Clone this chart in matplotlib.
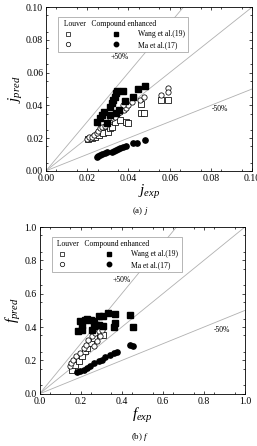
import matplotlib
matplotlib.use('Agg')
import matplotlib.pyplot as plt
import numpy as np
from matplotlib.legend_handler import HandlerTuple
from matplotlib.lines import Line2D

plt.rcParams['font.family'] = 'Liberation Serif'
plt.rcParams['mathtext.fontset'] = 'custom'
plt.rcParams['mathtext.it'] = 'Liberation Serif:italic'
plt.rcParams['mathtext.rm'] = 'Liberation Serif'

# ---- (a) j factor ----
j_wang_exp = [0.0482, 0.0444, 0.0423, 0.0384, 0.0374, 0.0345, 0.0342, 0.0334, 0.0326, 0.0318,
              0.031, 0.0352, 0.0342, 0.0281, 0.0274, 0.0261, 0.0248, 0.0297, 0.031]
j_wang_pred = [0.0521, 0.0497, 0.0452, 0.0428, 0.0489, 0.0489, 0.0473, 0.0452, 0.0432, 0.0412,
               0.0391, 0.0371, 0.0351, 0.0361, 0.0341, 0.032, 0.030, 0.029, 0.034]
j_ma_exp = [0.0245, 0.0253, 0.0261, 0.0274, 0.0285, 0.0297, 0.0318, 0.0329, 0.0339, 0.035,
            0.0361, 0.0374, 0.0387, 0.0423, 0.0442, 0.0482]
j_ma_pred = [0.0083, 0.0091, 0.0097, 0.0101, 0.0108, 0.0112, 0.0118, 0.0124, 0.0128, 0.0134,
             0.014, 0.0146, 0.0152, 0.0168, 0.0172, 0.0189]
j_louv_c_exp = [0.020, 0.021, 0.0221, 0.0232, 0.0245, 0.0253, 0.0261, 0.0274, 0.0285, 0.0297,
                0.031, 0.0323, 0.0334, 0.035, 0.0361, 0.0377, 0.039, 0.0398, 0.0415, 0.0455,
                0.0474, 0.056, 0.0592, 0.0592, 0.0374]
j_louv_c_pred = [0.0193, 0.0205, 0.0209, 0.0219, 0.0229, 0.0245, 0.026, 0.027, 0.0274, 0.029,
                 0.031, 0.032, 0.0331, 0.0351, 0.0361, 0.0371, 0.0381, 0.0402, 0.0422, 0.0432,
                 0.0452, 0.0462, 0.0509, 0.0483, 0.0402]
j_louv_s_exp = [0.0205, 0.0221, 0.0237, 0.0258, 0.0277, 0.0302, 0.031, 0.0318, 0.0334, 0.0358,
                0.0387, 0.0398, 0.0463, 0.0474, 0.056, 0.0592, 0.0463]
j_louv_s_pred = [0.0193, 0.0199, 0.0209, 0.0219, 0.0229, 0.0239, 0.026, 0.027, 0.030, 0.031,
                 0.030, 0.0294, 0.0351, 0.0351, 0.0432, 0.0432, 0.0408]

# ---- (b) f factor ----
f_wang_exp = [0.185, 0.206, 0.222, 0.233, 0.250, 0.266, 0.287, 0.311, 0.335, 0.368, 0.441,
              0.457, 0.36, 0.368, 0.311, 0.263, 0.254, 0.206, 0.198, 0.287]
f_wang_pred = [0.376, 0.384, 0.44, 0.448, 0.444, 0.434, 0.464, 0.468, 0.484, 0.48, 0.474,
               0.40, 0.40, 0.424, 0.404, 0.404, 0.384, 0.414, 0.434, 0.414]
f_ma_exp = [0.18, 0.198, 0.214, 0.23, 0.246, 0.263, 0.287, 0.303, 0.319, 0.344, 0.36, 0.376,
            0.441, 0.457]
f_ma_pred = [0.128, 0.134, 0.144, 0.154, 0.164, 0.184, 0.194, 0.204, 0.22, 0.234, 0.244, 0.25,
             0.294, 0.284]
f_louv_c_exp = [0.149, 0.152, 0.165, 0.178, 0.198, 0.214, 0.227, 0.238, 0.254, 0.271, 0.287,
                0.303, 0.263, 0.279, 0.295]
f_louv_c_pred = [0.164, 0.184, 0.204, 0.224, 0.244, 0.274, 0.294, 0.324, 0.344, 0.364, 0.374,
                 0.38, 0.284, 0.314, 0.344]
f_louv_s_exp = [0.157, 0.173, 0.19, 0.206, 0.222, 0.233, 0.25, 0.266, 0.295, 0.311]
f_louv_s_pred = [0.144, 0.174, 0.194, 0.224, 0.254, 0.274, 0.304, 0.334, 0.364, 0.354]

fig = plt.figure(figsize=(2.57, 4.46), dpi=100)
ax1 = fig.add_axes([0.179, 0.617, 0.802, 0.367])
ax2 = fig.add_axes([0.154, 0.117, 0.799, 0.374])

def panel(ax, lim, ticks, fmt, wx, wy, mx, my, lcx, lcy, lsx, lsy, sym, p50, m50):
    line = np.array([0, lim])
    for k in (1.0, 1.5, 0.5):
        ax.plot(line, line * k, color='#b0b0b0', lw=0.6, zorder=1)
    ms = 3.8
    ax.plot(lsx, lsy, 's', mfc='white', mec='black', mew=0.55, ms=ms, ls='none', zorder=2)
    ax.plot(lcx, lcy, 'o', mfc='white', mec='black', mew=0.55, ms=ms, ls='none', zorder=2)
    ax.plot(wx, wy, 's', color='black', ms=ms, ls='none', zorder=3)
    ax.plot(mx, my, 'o', color='black', ms=ms, ls='none', zorder=3)
    ax.set_xlim(0, lim)
    ax.set_ylim(0, lim)
    ax.set_xticks(ticks)
    ax.set_yticks(ticks)
    ax.set_xticklabels([fmt % t for t in ticks], fontsize=7)
    ax.set_yticklabels([fmt % t for t in ticks], fontsize=7)
    ax.set_xticks(np.arange(0, lim, lim / 10) + lim / 20, minor=True)
    ax.set_yticks(np.arange(0, lim, lim / 10) + lim / 20, minor=True)
    ax.tick_params(which='both', direction='in', top=True, right=True, width=0.5, pad=2)
    ax.tick_params(which='major', length=2.5)
    ax.tick_params(which='minor', length=1.5)
    for s in ax.spines.values():
        s.set_linewidth(0.6)
    ax.text(p50[0], p50[1], '+50%', fontsize=5.5, ha='center', va='center')
    ax.text(m50[0], m50[1], '-50%', fontsize=5.5, ha='center', va='center')
    ax.set_xlabel('$%s_{exp}$' % sym, fontsize=11, labelpad=0)
    ax.set_ylabel('$%s_{pred}$' % sym, fontsize=11, labelpad=1)

    h1 = (Line2D([], [], marker='s', mfc='white', mec='black', mew=0.5, ms=3.2, ls='none'),
          Line2D([], [], marker='s', color='black', ms=3.2, ls='none'))
    h2 = (Line2D([], [], marker='o', mfc='white', mec='black', mew=0.5, ms=3.2, ls='none'),
          Line2D([], [], marker='o', color='black', ms=3.2, ls='none'))
    leg = ax.legend([h1, h2], ['Wang et al.(19)', 'Ma et al.(17)'],
                    handler_map={tuple: HandlerTuple(ndivide=None, pad=4.5)},
                    title=' Louver   Compound enhanced', title_fontsize=5.5, fontsize=5.5,
                    loc='upper left', bbox_to_anchor=(0.04, 0.965), handlelength=8.0,
                    handletextpad=2.0, borderpad=0.45, labelspacing=0.3, fancybox=False,
                    edgecolor='#999999', framealpha=1)
    leg.get_frame().set_linewidth(0.5)
    leg._legend_box.align = 'left'

panel(ax1, 0.10, [0, 0.02, 0.04, 0.06, 0.08, 0.10], '%.2f',
      j_wang_exp, j_wang_pred, j_ma_exp, j_ma_pred, j_louv_c_exp, j_louv_c_pred,
      j_louv_s_exp, j_louv_s_pred, 'j', (0.0358, 0.0696), (0.0842, 0.038))
panel(ax2, 1.0, [0, 0.2, 0.4, 0.6, 0.8, 1.0], '%.1f',
      f_wang_exp, f_wang_pred, f_ma_exp, f_ma_pred, f_louv_c_exp, f_louv_c_pred,
      f_louv_s_exp, f_louv_s_pred, 'f', (0.40, 0.684), (0.886, 0.384))

fig.text(0.545, 1 - 211 / 446, '(a) $j$', fontsize=6.5, ha='center', va='center')
fig.text(0.545, 1 - 437 / 446, '(b) $f$', fontsize=6.5, ha='center', va='center')

fig.savefig('out.png', dpi=100)
